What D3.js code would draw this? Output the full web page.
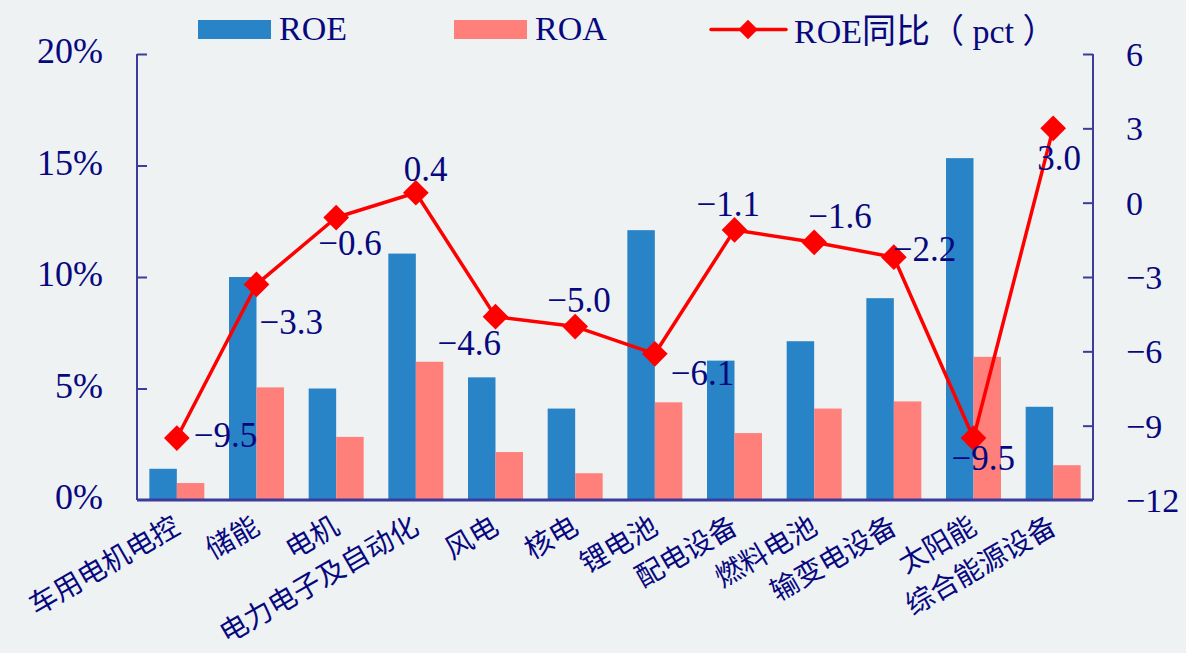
<!DOCTYPE html>
<html><head><meta charset="utf-8">
<script src="https://cdn.jsdelivr.net/npm/d3@7"></script>
<style>
html,body{margin:0;padding:0;background:#eef2f3;}
svg{display:block;}
text{font-family:"Liberation Serif","Noto Sans CJK SC",serif;fill:#08087e;}
</style></head>
<body>
<svg id="c" width="1186" height="653"></svg>
<script>
const categories = ["车用电机电控","储能","电机","电力电子及自动化","风电","核电","锂电池","配电设备","燃料电池","输变电设备","太阳能","综合能源设备"];
const roe = [1.4, 10.0, 5.0, 11.05, 5.5, 4.1, 12.1, 6.25, 7.12, 9.05, 15.33, 4.18];
const roa = [0.76, 5.05, 2.83, 6.2, 2.15, 1.2, 4.38, 3.0, 4.1, 4.42, 6.42, 1.56];
const roeYoy = [-9.5, -3.3, -0.6, 0.4, -4.6, -5.0, -6.1, -1.1, -1.6, -2.2, -9.5, 3.0];
const leftTicks = [0, 5, 10, 15, 20];
const rightTicks = [-12, -9, -6, -3, 0, 3, 6];
const seriesNames = ["ROE", "ROA", "ROE同比（ pct ）"];
// label placement offsets (layout only): [dx, dy] relative to marker
const labelOffsets = [[17,9],[3,50],[-18,37],[-12,-12],[-58,38],[-28,-15],[16,31],[-38,-14],[-6,-14],[-1,4],[-22,32],[-16,42]];

const svg = d3.select("#c");
const L = 137, R = 1093, T = 54, B = 500;
const axisCol = "#3c3c9c";

const x = d3.scaleBand().domain(categories).range([L, R]).paddingInner(0.31).paddingOuter(0.155);
const xs = d3.scaleBand().domain(["ROE","ROA"]).range([0, x.bandwidth()]);
const yL = d3.scaleLinear().domain([0, 20]).range([B, T]);
const yR = d3.scaleLinear().domain([-12, 6]).range([B, T]);
const cx = c => x(c) + x.bandwidth() / 2;

// bars
const g = svg.append("g");
categories.forEach((c, i) => {
  g.append("rect").attr("x", x(c) + xs("ROE")).attr("width", xs.bandwidth())
    .attr("y", yL(roe[i])).attr("height", B - yL(roe[i])).attr("fill", "#2983c7");
  g.append("rect").attr("x", x(c) + xs("ROA")).attr("width", xs.bandwidth())
    .attr("y", yL(roa[i])).attr("height", B - yL(roa[i])).attr("fill", "#ff7f7a");
});

// axes
const axL = svg.append("g").attr("transform", `translate(${L},0)`)
  .call(d3.axisRight(yL).tickValues(leftTicks).tickSize(10).tickFormat(""));
const axR = svg.append("g").attr("transform", `translate(${R},0)`)
  .call(d3.axisLeft(yR).tickValues(rightTicks).tickSize(10).tickFormat(""));
[axL, axR].forEach(a => {
  a.selectAll("path,line").attr("stroke", axisCol).attr("stroke-width", 2);
  a.select("path.domain").attr("d", `M0,${T}V${B}`);
});
axL.selectAll(".tick line").filter(d => d === 0).remove();
axR.selectAll(".tick line").filter(d => d === -12).remove();

svg.append("line").attr("x1", L).attr("x2", R).attr("y1", B).attr("y2", B)
  .attr("stroke", axisCol).attr("stroke-width", 3);

// tick labels
svg.append("g").selectAll("text").data(leftTicks).join("text")
  .attr("x", 103).attr("y", d => yL(d) + 9).attr("text-anchor", "end")
  .attr("font-size", 36)
  .text(d => d + "%");
svg.append("g").selectAll("text").data(rightTicks).join("text")
  .attr("x", 1126).attr("y", d => yR(d) + 12)
  .attr("font-size", 34)
  .text(d => (d < 0 ? "\u2212" + Math.abs(d) : d));

// category labels
svg.append("g").selectAll("text").data(categories).join("text")
  .attr("transform", c => `translate(${cx(c) + 5},${532}) rotate(-30)`)
  .attr("text-anchor", "end").attr("font-size", 28)
  .text(c => c);

// line
const line = d3.line().x((d, i) => cx(categories[i])).y(d => yR(d));
svg.append("path").datum(roeYoy).attr("d", line).attr("fill", "none")
  .attr("stroke", "#ff0000").attr("stroke-width", 3.5).attr("stroke-linejoin", "round");
svg.append("g").selectAll("path").data(roeYoy).join("path")
  .attr("d", d3.symbol().type(d3.symbolSquare).size(330))
  .attr("transform", (d, i) => `translate(${cx(categories[i])},${yR(d)}) rotate(45)`)
  .attr("fill", "#ff0000");

// data labels
svg.append("g").selectAll("text").data(roeYoy).join("text")
  .attr("x", (d, i) => cx(categories[i]) + labelOffsets[i][0])
  .attr("y", (d, i) => yR(d) + labelOffsets[i][1])
  .attr("font-size", 35)
  .text(d => (d < 0 ? "\u2212" + Math.abs(d).toFixed(1) : d.toFixed(1)));

// legend
const lg = svg.append("g");
lg.append("rect").attr("x", 198).attr("y", 20).attr("width", 73).attr("height", 19).attr("fill", "#2983c7");
lg.append("text").attr("x", 279).attr("y", 40).attr("font-size", 34).text(seriesNames[0]);
lg.append("rect").attr("x", 454).attr("y", 20).attr("width", 73).attr("height", 19).attr("fill", "#ff7f7a");
lg.append("text").attr("x", 535).attr("y", 40).attr("font-size", 34).text(seriesNames[1]);
lg.append("line").attr("x1", 711).attr("x2", 786).attr("y1", 29.5).attr("y2", 29.5)
  .attr("stroke", "#ff0000").attr("stroke-width", 3.5).attr("stroke-linecap", "round");
lg.append("path").attr("d", d3.symbol().type(d3.symbolSquare).size(190))
  .attr("transform", "translate(748,29.5) rotate(45)").attr("fill", "#ff0000");
lg.append("text").attr("x", 794).attr("y", 43).attr("font-size", 34).text(seriesNames[2]);
</script>
</body></html>
